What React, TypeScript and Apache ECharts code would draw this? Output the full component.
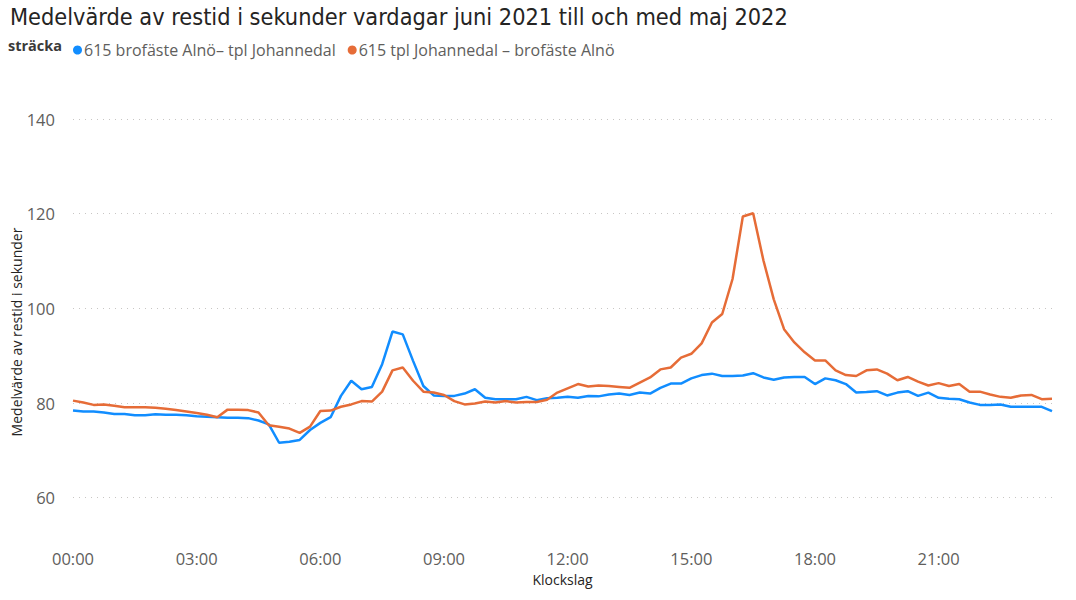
import React, { useEffect, useRef } from 'react';
import * as echarts from 'echarts';

// 15-minute slots, 00:00 .. 23:45
const times: string[] = [];
for (let h = 0; h < 24; h++) {
  for (let m = 0; m < 60; m += 15) {
    times.push(String(h).padStart(2, '0') + ':' + String(m).padStart(2, '0'));
  }
}

const alnoToJohannedal = [
  78.4, 78.2, 78.2, 78.0, 77.7, 77.7, 77.4, 77.4, 77.6, 77.5, 77.5, 77.4,
  77.2, 77.1, 77.0, 76.9, 76.9, 76.8, 76.3, 75.5, 71.6, 71.8, 72.2, 74.3,
  75.8, 77.0, 81.5, 84.7, 82.9, 83.4, 88.2, 95.1, 94.5, 88.9, 83.6, 81.6,
  81.5, 81.5, 82.0, 82.9, 81.1, 80.8, 80.8, 80.8, 81.3, 80.6, 81.0, 81.1,
  81.3, 81.1, 81.5, 81.4, 81.8, 82.0, 81.7, 82.2, 82.0, 83.2, 84.1, 84.1,
  85.2, 85.9, 86.2, 85.7, 85.7, 85.8, 86.3, 85.4, 84.9, 85.4, 85.5, 85.5,
  84.0, 85.2, 84.8, 84.0, 82.2, 82.3, 82.5, 81.6, 82.2, 82.5, 81.5, 82.2,
  81.1, 80.9, 80.8, 80.1, 79.6, 79.6, 79.7, 79.2, 79.2, 79.2, 79.2, 78.3,
];

const johannedalToAlno = [
  80.5, 80.1, 79.6, 79.7, 79.4, 79.1, 79.1, 79.1, 79.0, 78.8, 78.5, 78.2,
  77.9, 77.5, 77.0, 78.6, 78.6, 78.5, 78.0, 75.3, 75.0, 74.6, 73.7, 75.0,
  78.3, 78.4, 79.2, 79.7, 80.4, 80.3, 82.4, 86.9, 87.5, 84.7, 82.4, 82.2,
  81.7, 80.4, 79.7, 79.9, 80.3, 80.1, 80.4, 80.1, 80.2, 80.2, 80.7, 82.2,
  83.1, 84.0, 83.5, 83.7, 83.6, 83.4, 83.2, 84.3, 85.4, 87.1, 87.5, 89.6,
  90.4, 92.6, 97.0, 98.8, 106.2, 119.4, 120.1, 110.1, 101.9, 95.6, 92.8, 90.7,
  89.0, 89.0, 86.9, 85.9, 85.7, 86.9, 87.1, 86.2, 84.8, 85.5, 84.5, 83.7,
  84.2, 83.6, 84.0, 82.4, 82.4, 81.8, 81.3, 81.1, 81.6, 81.7, 80.8, 80.9,
];

const seriesNames = [
  '615 brofäste Alnö– tpl Johannedal',
  '615 tpl Johannedal – brofäste Alnö',
];

const font = '"Open Sans", "Noto Sans", sans-serif';

const App = () => {
  const chartRef = useRef<HTMLDivElement>(null);

  useEffect(() => {
    if (!chartRef.current) return;
    const chart = echarts.init(chartRef.current, null, { renderer: 'svg' });

    chart.setOption({
      animation: false,
      title: {
        text: 'Medelvärde av restid i sekunder vardagar juni 2021 till och med maj 2022',
        left: 5,
        top: 0,
        textStyle: {
          fontFamily: '"DejaVu Sans Condensed", sans-serif',
          fontSize: 23.3,
          fontWeight: 'normal',
          color: '#252423',
        },
      },
      graphic: [
        {
          type: 'text',
          left: 8,
          top: 38,
          style: {
            text: 'sträcka',
            fontFamily: font,
            fontSize: 14.5,
            fontWeight: 'bold',
            fill: '#3b3a39',
          },
        },
      ],
      legend: {
        left: 68,
        top: 37,
        icon: 'circle',
        itemWidth: 9,
        itemHeight: 9,
        itemGap: 12,
        textStyle: { fontFamily: font, fontSize: 16, color: '#605E5C', padding: [0, 0, 0, -3] },
        data: seriesNames,
      },
      grid: { left: 73, right: 24, top: 119, bottom: 55, outerBoundsMode: 'none' },
      xAxis: {
        type: 'category',
        data: times,
        boundaryGap: false,
        name: 'Klockslag',
        nameLocation: 'middle',
        nameGap: 27,
        nameMoveOverlap: false,
        nameTextStyle: { fontFamily: font, fontSize: 14, color: '#252423' },
        axisLine: { show: false },
        axisTick: { show: false },
        axisLabel: {
          interval: 11,
          fontFamily: font,
          fontSize: 16.5,
          color: '#605E5C',
          margin: 5,
        },
      },
      yAxis: {
        type: 'value',
        min: 50,
        max: 140,
        interval: 10,
        name: 'Medelvärde av restid i sekunder',
        nameLocation: 'middle',
        nameGap: 50,
        nameMoveOverlap: false,
        nameTextStyle: { fontFamily: font, fontSize: 14, color: '#252423' },
        axisLabel: {
          fontFamily: font,
          fontSize: 16.5,
          color: '#605E5C',
          margin: 18,
          formatter: (v: number) => (v % 20 === 0 ? String(v) : ''),
        },
        splitLine: {
          lineStyle: {
            type: [1, 5],
            width: 1,
            color: ['rgba(0,0,0,0)', '#C8C6C4'],
          },
        },
      },
      series: [
        {
          name: seriesNames[0],
          type: 'line',
          data: alnoToJohannedal,
          showSymbol: false,
          color: '#118DFF',
          lineStyle: { width: 2.5 },
        },
        {
          name: seriesNames[1],
          type: 'line',
          data: johannedalToAlno,
          showSymbol: false,
          color: '#E66C37',
          lineStyle: { width: 2.5 },
        },
      ],
    });

    return () => {
      chart.dispose();
    };
  }, []);

  return (
    <div
      ref={chartRef}
      style={{ position: 'absolute', left: 0, top: 0, width: '1076px', height: '600px', background: '#fff' }}
    />
  );
};

export default App;
